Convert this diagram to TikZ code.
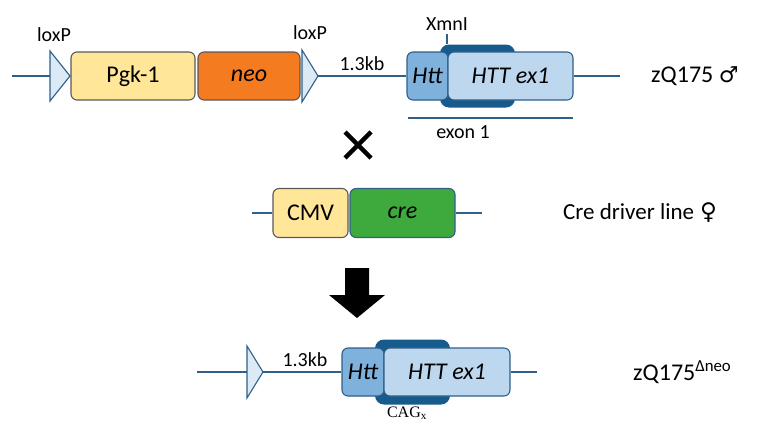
\documentclass[tikz,border=0pt]{standalone}
\usepackage{fontspec}
\setmainfont{Carlito}
\newfontfamily\symbfont{DejaVu Sans}
\newfontfamily\cagfont{Liberation Serif}

\definecolor{dnablue}{HTML}{2F5F8A}
\definecolor{loxfill}{HTML}{DCEAF6}
\definecolor{pgkyellow}{HTML}{FFE699}
\definecolor{neoorange}{HTML}{F47B20}
\definecolor{creggreen}{HTML}{3EAA3E}
\definecolor{httmid}{HTML}{7EB1DB}
\definecolor{httlight}{HTML}{BDD7EE}
\definecolor{banddark}{HTML}{165B8C}

\tikzset{
  dna/.style={draw=dnablue, line width=1.8pt},
  genebox/.style={draw=#1, rounded corners=6pt, line width=1.1pt, inner sep=0pt,
    minimum height=48pt, font=\fontsize{24}{28}\selectfont},
  band/.style={fill=banddark, rounded corners=9pt, inner sep=0pt},
  loxp/.style={draw=dnablue, fill=loxfill, line width=1.1pt, line join=miter},
  lbl/.style={font=\fontsize{20}{23}\selectfont, inner sep=0pt},
  biglbl/.style={font=\fontsize{24}{28}\selectfont, inner sep=0pt, anchor=west},
}

\begin{document}
\begin{tikzpicture}[x=1pt,y=-1pt]
    \useasboundingbox (0,0) rectangle (760,423);
    % zQ175 allele
    \coordinate (w1) at (12,76);
    \coordinate (lox1) at (50,76);
    \coordinate (lox2) at (318,76);
    \coordinate (w2) at (620,76);
    \draw[dna] (w1) -- (lox1);
    \draw[loxp] (lox1) ++(0,-25) -- ++(20,25) -- ++(-20,25) -- cycle;
    \node[genebox=black!65, fill=pgkyellow, minimum width=124pt] (pgk) at (133,76) {Pgk-1};
    \node[genebox=black!65, fill=neoorange, minimum width=102pt] (neo) at (249,76) {\itshape neo};
    \draw[loxp] (lox2) ++(-16,-26) -- ++(16,26) -- ++(-16,26) -- cycle;
    \node[band, minimum width=75pt, minimum height=63pt] (band1) at (477.5,76) {};
    \node[genebox=dnablue, fill=httmid, minimum width=41pt] (htt1) at (427.5,76) {\itshape Htt};
    \node[genebox=dnablue, fill=httlight, minimum width=125pt] (ex1) at (510.5,76) {\itshape HTT ex1};
    \draw[dna] (lox2) -- (htt1);
    \draw[dna] (ex1) -- (w2);
    \node[lbl] (loxa) at (54,35) {loxP};
    \node[lbl] (loxb) at (310,33) {loxP};
    \node[lbl] (kb1) at (362,64) {1.3kb};
    \node[lbl] (xmn) at (447,24) {XmnI};
    \draw[dnablue, line width=1.2pt] (xmn.south) ++(0,3) -- (xmn |- band1.north);
    \coordinate (exa) at (408,118);
    \coordinate (exb) at (573,118);
    \draw[dna] (exa) -- (exb);
    \node[lbl] (exon) at (463,132) {exon 1};
    \node[biglbl] (zq) at (651,76) {zQ175 {\symbfont\fontsize{22}{26}\selectfont ♂}};
    % cross
    \coordinate (cross) at (358,145);
    \draw[line width=4.5pt] (cross) ++(-13,-13) -- ++(26,26) (cross) ++(13,-13) -- ++(-26,26);
    % Cre driver
    \coordinate (w3) at (252,213);
    \coordinate (w4) at (482,213);
    \node[genebox=black!65, fill=pgkyellow, minimum width=75pt, minimum height=49pt] (cmv) at (310.5,213) {CMV};
    \node[genebox=dnablue, fill=creggreen, minimum width=105pt, minimum height=49pt] (cre) at (402.5,213) {\itshape cre};
    \draw[dna] (w3) -- (cmv);
    \draw[dna] (cre) -- (w4);
    \node[biglbl, font=\fontsize{23}{27}\selectfont] (crelbl) at (563,213) {Cre driver line\hspace{6pt}{\symbfont ♀}};
    % arrow
    \fill (345,268) -- (369,268) -- (369,295) -- (385,295) -- (357,318) -- (329,295) -- (345,295) -- cycle;
    % zQ175 delta neo
    \coordinate (w5) at (197,372);
    \coordinate (lox3) at (247,372);
    \coordinate (w6) at (537,372);
    \draw[dna] (w5) -- (lox3);
    \draw[loxp] (lox3) ++(0,-26) -- ++(16,26) -- ++(-16,26) -- cycle;
    \node[band, minimum width=75pt, minimum height=65pt] (band2) at (412.5,372) {};
    \node[genebox=dnablue, fill=httmid, minimum width=42pt] (htt2) at (363,372) {\itshape Htt};
    \node[genebox=dnablue, fill=httlight, minimum width=126pt] (ex2) at (447,372) {\itshape HTT ex1};
    \draw[dna] (lox3) ++(16,0) -- (htt2);
    \draw[dna] (ex2) -- (w6);
    \node[lbl] (kb2) at (305,360) {1.3kb};
    \node[lbl, font=\cagfont\fontsize{16}{19}\selectfont] (cag) at (407,413) {CAG\textsubscript{x}};
    \node[biglbl] (zqd) at (633,372) {zQ175\textsuperscript{Δneo}};
\end{tikzpicture}
\end{document}
